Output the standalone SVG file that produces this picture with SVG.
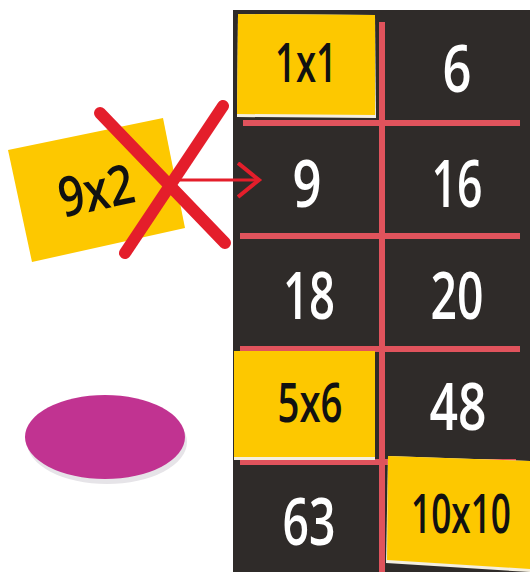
<svg xmlns="http://www.w3.org/2000/svg" width="530" height="572" viewBox="0 0 530 572">
<defs>
<style>
.grid{stroke:#e0535c;stroke-width:6;fill:none}
.card{fill:#fdc800}
.w{fill:#ffffff;font-family:"Open Sans","DejaVu Sans",sans-serif;font-weight:600;font-size:66px;text-anchor:middle}
.b{fill:#111111;font-family:"Open Sans","DejaVu Sans",sans-serif;font-weight:600;font-size:55px;text-anchor:middle}
.x{stroke:#e41e2b;stroke-width:12;stroke-linecap:round;fill:none}
.arr{stroke:#e41e2b;stroke-width:3;fill:none}
</style>
<marker id="ah" markerWidth="30" markerHeight="40" refX="22" refY="18" orient="auto" markerUnits="userSpaceOnUse">
<path d="M1,1 L22,18 L1,35" fill="none" stroke="#e41e2b" stroke-width="4"/>
</marker>
</defs>
<rect width="530" height="572" fill="#ffffff"/>
<g id="board">
<rect x="233" y="10" width="297" height="562" fill="#2f2b29"/>
<line class="grid" x1="382" y1="22" x2="382" y2="572"/>
<line class="grid" x1="243" y1="123" x2="520" y2="123"/>
<line class="grid" x1="240" y1="236" x2="520" y2="236"/>
<line class="grid" x1="240" y1="349" x2="520" y2="349"/>
<line class="grid" x1="240" y1="462" x2="516" y2="462"/>
</g>
<g id="c1x1">
<polygon points="238,14 375,15 376,118 237,117" fill="#f4efe0"/>
<polygon class="card" points="238,14 375,15 375,115 237,114"/>
<text class="b" x="306" y="82" textLength="62" lengthAdjust="spacingAndGlyphs">1x1</text>
</g>
<g id="c6"><text class="w" x="457" y="92" textLength="29" lengthAdjust="spacingAndGlyphs">6</text></g>
<g id="c9"><text class="w" x="307" y="207" textLength="29" lengthAdjust="spacingAndGlyphs">9</text></g>
<g id="c16"><text class="w" x="457" y="207" textLength="51" lengthAdjust="spacingAndGlyphs">16</text></g>
<g id="c18"><text class="w" x="309" y="319" textLength="52" lengthAdjust="spacingAndGlyphs">18</text></g>
<g id="c20"><text class="w" x="457" y="319" textLength="53" lengthAdjust="spacingAndGlyphs">20</text></g>
<g id="c5x6">
<polygon points="234,351 375,351 375,460 234,460" fill="#f4efe0"/>
<polygon class="card" points="234,351 375,351 375,457 234,457"/>
<text class="b" x="310" y="422" textLength="65" lengthAdjust="spacingAndGlyphs">5x6</text>
</g>
<g id="c48"><text class="w" x="458" y="430" textLength="57" lengthAdjust="spacingAndGlyphs">48</text></g>
<g id="c63"><text class="w" x="309" y="545" textLength="53" lengthAdjust="spacingAndGlyphs">63</text></g>
<g id="c10x10">
<polygon points="388,456 530,461 530,572 386,563" fill="#f4efe0"/>
<polygon class="card" points="388,456 530,461 530,569 387,560"/>
<text class="b" transform="translate(461,533) scale(0.64,1)" x="0" y="0">10x10</text>
</g>
<g id="c9x2">
<polygon class="card" points="8,150 163,118 185,228 32,262"/>
<text class="b" x="96" y="210" textLength="76" lengthAdjust="spacingAndGlyphs" transform="rotate(-12 96 190)">9x2</text>
</g>
<g id="disc">
<ellipse cx="107" cy="442" rx="80" ry="42" fill="#e6e4e8"/>
<ellipse cx="105" cy="437" rx="80" ry="42" fill="#c13391"/>
</g>
<g id="connectors">
<line class="x" x1="100" y1="113" x2="225" y2="243"/>
<line class="x" x1="223" y1="106" x2="125" y2="253"/>
<line class="arr" x1="168" y1="180" x2="259" y2="180" marker-end="url(#ah)"/>
</g>
</svg>
